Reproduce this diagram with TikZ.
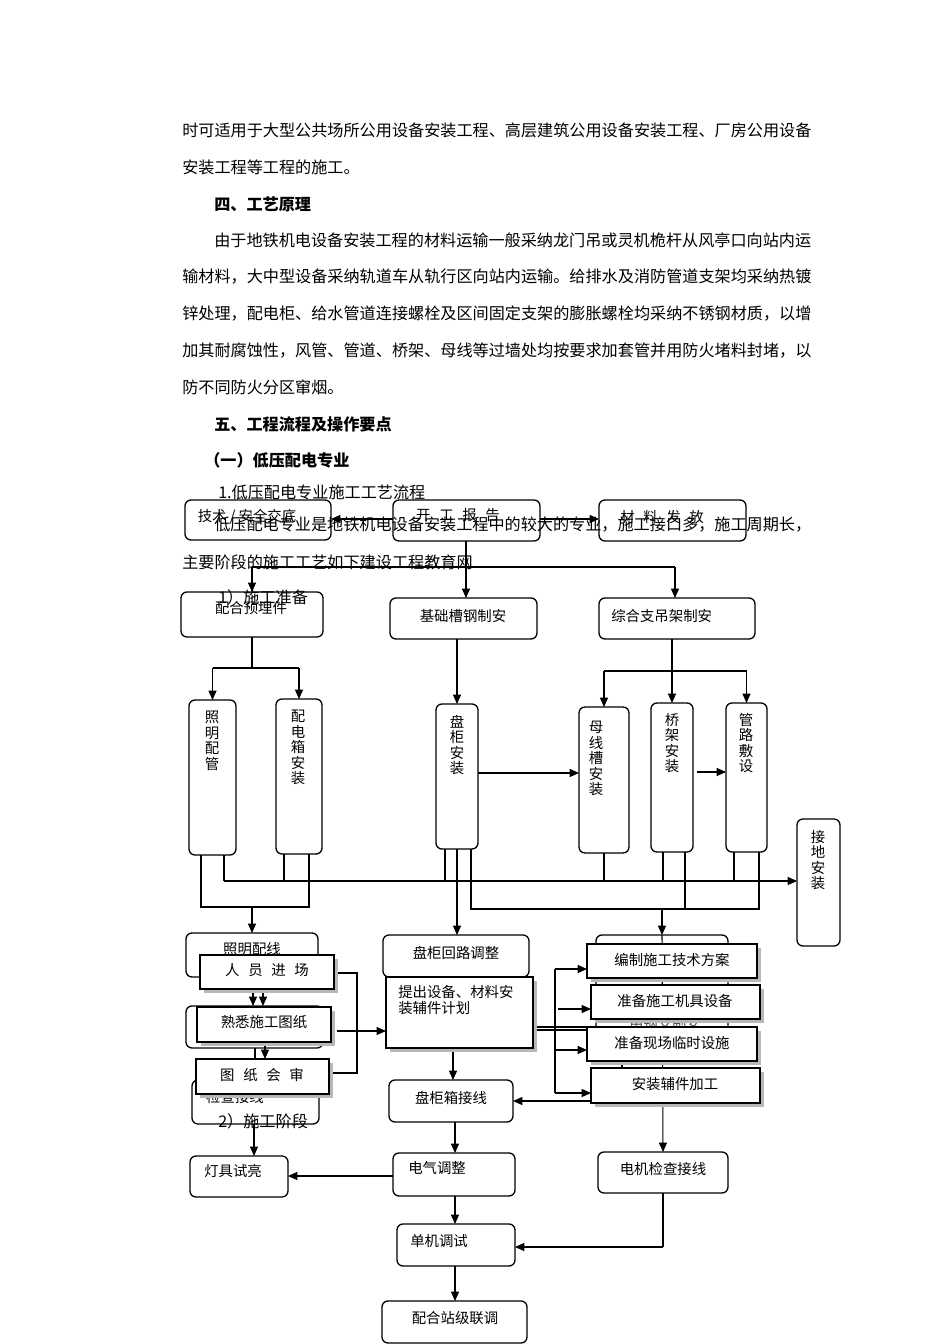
\documentclass[tikz,border=0pt]{standalone}
\usepackage{fontspec}
\setmainfont{Noto Sans CJK SC}
\usetikzlibrary{arrows.meta,shadows}
\newcommand\bx[6]{\node[#6, minimum width={(#4-#2)*0.75pt}, minimum height={(#5-#3)*0.75pt}] (#1) at ({(#2+#4)/2},{(#3+#5)/2}) {};}
\newcommand\gapsp{\hspace{0.6em}}
\begin{document}
\begin{tikzpicture}[x=0.75pt,y=-0.75pt,
  rb/.style={draw, rounded corners=4.5pt, inner sep=0pt, outer sep=0pt, line width=1pt},
  sb/.style={draw, fill=white, inner sep=0pt, outer sep=0pt, line width=1pt,
    drop shadow={shadow xshift=3pt, shadow yshift=-3pt, fill=black!28, opacity=1}},
  lb/.style={inner sep=0pt, font=\fontsize{10.8}{11.6}\selectfont},
  vt/.style={lb, align=center, anchor=north},
  lbl/.style={lb, anchor=west},
  ptx/.style={anchor=west, inner sep=0pt, font=\fontsize{12.1}{14}\selectfont},
  ln/.style={line width=0.8pt},
  ar/.style={line width=0.8pt, -{Triangle[length=7pt,width=6pt]}}]
\fill[white] (0,0) rectangle (950,1344);
\useasboundingbox (0,0) rectangle (950,1344);

% ---------- rounded boxes ----------
\bx{jsjd}{185}{500}{331}{540}{rb}
\node[lb] (jsjdT) at (247,517) {技术 / 安全交底};
\bx{kgbg}{393}{500}{540}{541}{rb}
\node[lb] (kgbgT) at (458,515) {开\gapsp 工\gapsp 报\gapsp 告};
\bx{clff}{599}{500}{746}{541}{rb}
\node[lb] (clffT) at (662,517) {材\gapsp 料\gapsp 发\gapsp 放};

\bx{phyml}{181}{592}{323}{637}{rb}
\node[lb] (phymlT) at (251,608) {配合预埋件};
\bx{jcgg}{390}{598}{537}{639}{rb}
\node[lb] (jcggT) at (463,616) {基础槽钢制安};
\bx{zhzdj}{599}{598}{755}{639}{rb}
\node[lbl] (zhzdjT) at (611,616) {综合支吊架制安};

\bx{zmpg}{189}{700}{236}{855}{rb}
\node[vt] (zmpgT) at (212,711) {照\\明\\配\\管};
\bx{pdxaz}{276}{699}{322}{854}{rb}
\node[vt] (pdxazT) at (298,710) {配\\电\\箱\\安\\装};
\bx{pgaz}{436}{704}{478}{849}{rb}
\node[vt] (pgazT) at (457,715) {盘\\柜\\安\\装};
\bx{mxcaz}{579}{707}{629}{853}{rb}
\node[vt] (mxcazT) at (596,721) {母\\线\\槽\\安\\装};
\bx{qjaz}{651}{703}{693}{852}{rb}
\node[vt] (qjazT) at (672,713) {桥\\架\\安\\装};
\bx{glfs}{726}{703}{767}{852}{rb}
\node[vt] (glfsT) at (746,713) {管\\路\\敷\\设};
\bx{jdaz}{797}{819}{840}{946}{rb}
\node[vt] (jdazT) at (818,830) {接\\地\\安\\装};

\bx{zmpx}{186}{933}{318}{977}{rb}
\node[lb] (zmpxT) at (252,949) {照明配线};
\bx{hb3}{186}{1006}{323}{1048}{rb}
\bx{jcjx}{192}{1080}{319}{1124}{rb}
\node[lb] (jcjxT) at (235,1097) {检查接线};

\bx{pghltz}{383}{935}{529}{977}{rb}
\node[lb] (pghltzT) at (456,953) {盘柜回路调整};
\bx{hb1}{390}{990}{512}{1051}{rb}
\bx{pgxjx}{389}{1080}{513}{1122}{rb}
\node[lb] (pgxjxT) at (451,1098) {盘柜箱接线};
\bx{hb2}{596}{935}{728}{1045}{rb}

\bx{djjc}{598}{1152}{728}{1193}{rb}
\node[lb] (djjcT) at (663,1169) {电机检查接线};
\bx{dqtz}{393}{1153}{515}{1196}{rb}
\node[lbl] (dqtzT) at (408,1168) {电气调整};
\bx{djsl}{190}{1156}{288}{1197}{rb}
\node[lbl] (djslT) at (204,1171) {灯具试亮};
\bx{djts}{397}{1224}{515}{1266}{rb}
\node[lbl] (djtsT) at (410,1241) {单机调试};
\bx{phzj}{382}{1301}{527}{1343}{rb}
\node[lb] (phzjT) at (455,1318) {配合站级联调};

% ---------- connectors ----------
\draw[ar] (kgbg.west |- 0,519) -- (jsjd.east |- 0,519);
\draw[ar] (kgbg.east |- 0,519) -- (clff.west |- 0,519);
\coordinate (j1) at (466,567);
\coordinate (jL) at (252,567);
\coordinate (jR) at (675,567);
\draw[ln] (kgbg.south -| j1) -- (j1);
\draw[ln] (jL) -- (jR);
\draw[ar] (jL) -- (phyml.north -| jL);
\draw[ar] (j1) -- (jcgg.north -| j1);
\draw[ar] (jR) -- (zhzdj.north -| jR);

\coordinate (p1) at (252,668);
\draw[ln] (phyml.south -| p1) -- (p1);
\draw[ln] (zmpg.north |- p1) -- (pdxaz.north |- p1);
\draw[ar] (zmpg.north |- p1) -- (zmpg.north);
\draw[ar] (pdxaz.north |- p1) -- (pdxaz.north);
\draw[ar] (pgaz.north |- jcgg.south) -- (pgaz.north);
\coordinate (q1) at (672,671);
\draw[ln] (q1 |- zhzdj.south) -- (q1);
\draw[ln] (mxcaz.north |- q1) -- (glfs.north |- q1);
\draw[ar] (mxcaz.north |- q1) -- (mxcaz.north);
\draw[ar] (qjaz.north |- q1) -- (qjaz.north);
\draw[ar] (glfs.north |- q1) -- (glfs.north);

\draw[ar] (pgaz.east |- 0,773) -- (mxcaz.west |- 0,773);
\coordinate (qa) at (697,772);
\draw[ar] (qa) -- (glfs.west |- qa);

\coordinate (h1) at (224,881);
\draw[ln] (zmpg.south -| h1) -- (h1);
\draw[ar] (h1) -- (jdaz.west |- h1);
\draw[ln] (pdxaz.south -| 284,0) -- (284,881);
\draw[ln] (pgaz.south -| 445,0) -- (445,881);
\draw[ln] (mxcaz.south -| 604,0) -- (604,881);
\draw[ln] (qjaz.south -| 663,0) -- (663,881);
\draw[ln] (glfs.south -| 734,0) -- (734,881);
\coordinate (h2) at (201,907);
\coordinate (h3) at (309,907);
\draw[ln] (zmpg.south -| h2) -- (h2) -- (h3) -- (pdxaz.south -| h3);
\draw[ar] (zmpx.north |- h2) -- (zmpx.north);
\draw[ar] (pgaz.south) -- (pgaz.south |- pghltz.north);
\coordinate (h4) at (471,909);
\coordinate (h5) at (759,909);
\draw[ln] (pgaz.south -| h4) -- (h4) -- (h5) -- (glfs.south -| h5);
\draw[ln] (qjaz.south -| 685,0) -- (685,909);
\draw[ar] (hb2.north |- h5) -- (hb2.north);
\draw[ar] (hb2.north) -- (djjc.north);
\draw[ln] (hb2.south -| 622,0) -- (622,1075);

% left column
\draw[ar] (zmpx.south -| 253,0) -- (hb3.north -| 253,0);
\draw[ar] (263,989) -- (263,1006);
\draw[ar] (265,1042) -- (265,1059);
\draw[ln] (hb3.south -| 255,0) -- (jcjx.north -| 255,0);
\draw[ln] (334,973) -- (357,973) -- (357,1073) -- (329,1073);
\draw[ar] (jcjx.south -| 254,0) -- (djsl.north -| 254,0);
\draw[ar] (337,1031) -- (386,1031);

% middle column
\draw[ar] (453,1048) -- (pgxjx.north -| 453,0);
\draw[ln] (533,1027) -- (587,1027);
\draw[ln] (533,1030) -- (587,1030);
\draw[ln] (555,969) -- (555,1093);
\draw[ar] (555,969) -- (587,969);
\draw[ar] (558,1009) -- (591,1009);
\draw[ar] (555,1050) -- (587,1050);
\draw[ar] (555,1093) -- (591,1093);
\draw[ar] (591,1101) -- (pgxjx.east |- 0,1101);
\draw[ar] (pgxjx.south -| 455,0) -- (dqtz.north -| 455,0);
\draw[ar] (dqtz.west |- 0,1176) -- (djsl.east |- 0,1176);
\draw[ar] (dqtz.south -| 455,0) -- (djts.north -| 455,0);
\draw[ar] (djts.south -| 455,0) -- (phzj.north -| 455,0);
\coordinate (e1) at (663,1247);
\draw[ln] (djjc.south) -- (e1);
\draw[ar] (e1) -- (djts.east |- e1);

% ---------- running text ----------
\node[ptx] (t1) at (182,130) {时可适用于大型公共场所公用设备安装工程、高层建筑公用设备安装工程、厂房公用设备};
\node[ptx] (t2) at (182,167) {安装工程等工程的施工。};
\node[ptx,font=\fontsize{12.1}{14}\selectfont\bfseries] (t3) at (214,204) {四、工艺原理};
\node[ptx] (t4) at (214,240) {由于地铁机电设备安装工程的材料运输一般采纳龙门吊或灵机桅杆从风亭口向站内运};
\node[ptx] (t5) at (182,277) {输材料，大中型设备采纳轨道车从轨行区向站内运输。给排水及消防管道支架均采纳热镀};
\node[ptx] (t6) at (182,314) {锌处理，配电柜、给水管道连接螺栓及区间固定支架的膨胀螺栓均采纳不锈钢材质，以增};
\node[ptx] (t7) at (182,351) {加其耐腐蚀性，风管、管道、桥架、母线等过墙处均按要求加套管并用防火堵料封堵，以};
\node[ptx] (t8) at (182,387) {防不同防火分区窜烟。};
\node[ptx,font=\fontsize{12.1}{14}\selectfont\bfseries] (t9) at (214,424) {五、工程流程及操作要点};
\node[ptx,font=\fontsize{12.1}{14}\selectfont\bfseries] (t10) at (204,460) {（一）低压配电专业};
\node[ptx] (t11) at (218,492) {1.低压配电专业施工工艺流程};
\node[ptx] (t12) at (214,525) {低压配电专业是地铁机电设备安装工程中的较大的专业，施工接口多，施工周期长，};
\node[ptx] (t13) at (182,562) {主要阶段的施工工艺如下建设工程教育网};
\node[ptx] (t14) at (218,597) {1）施工准备};

\node[lb, fill=white, text=black!70, inner sep=1pt] (hid) at (665,1023) {用钢支制安};

% ---------- shadowed boxes ----------
\bx{ryjc}{200}{955}{334}{989}{sb}
\node[lb] (ryjcT) at (267,970) {人\gapsp 员\gapsp 进\gapsp 场};
\bx{sxsgtz}{197}{1007}{331}{1042}{sb}
\node[lb] (sxsgtzT) at (264,1022) {熟悉施工图纸};
\bx{tzhs}{196}{1059}{329}{1094}{sb}
\node[lb] (tzhsT) at (262,1075) {图\gapsp 纸\gapsp 会\gapsp 审};
\bx{tcsb}{386}{977}{533}{1048}{sb}
\node[lb, anchor=north west, align=left, font=\fontsize{10.8}{12}\selectfont] (tcsbT) at (398,985) {提出设备、材料安\\装辅件计划};
\bx{bzsg}{587}{944}{757}{978}{sb}
\node[lb] (bzsgT) at (672,960) {编制施工技术方案};
\bx{zbjj}{591}{985}{760}{1019}{sb}
\node[lb] (zbjjT) at (675,1001) {准备施工机具设备};
\bx{zbxc}{587}{1027}{757}{1061}{sb}
\node[lb] (zbxcT) at (672,1043) {准备现场临时设施};
\bx{azfj}{591}{1068}{760}{1103}{sb}
\node[lb] (azfjT) at (675,1084) {安装辅件加工};

\node[ptx] (t15) at (218,1121) {2）施工阶段};
\end{tikzpicture}
\end{document}
